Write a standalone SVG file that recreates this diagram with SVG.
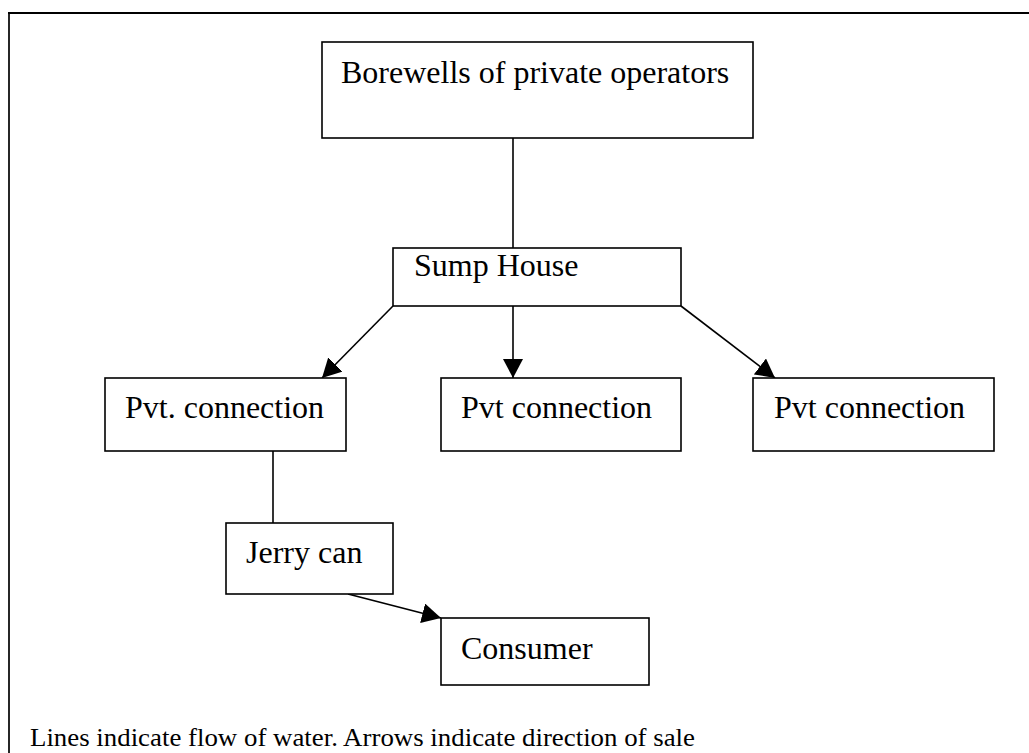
<svg xmlns="http://www.w3.org/2000/svg" width="1029" height="753" viewBox="0 0 1029 753">
<defs>
<style>
.box{fill:#fff;stroke:#000;stroke-width:1.6}
.lbl{font-family:"Liberation Serif","Times New Roman",serif;font-size:32px;fill:#000}
.con{stroke:#000;stroke-width:1.6;fill:none}
</style>
<marker id="ah" markerUnits="userSpaceOnUse" markerWidth="20" markerHeight="20" refX="19" refY="10" orient="auto" viewBox="0 0 20 20">
<path d="M0,0 L19,10 L0,20 z" fill="#000"/>
</marker>
</defs>
<rect width="1029" height="753" fill="#fff"/>
<g id="frame">
<line x1="8" y1="13" x2="1029" y2="13" stroke="#000" stroke-width="2.2"/>
<line x1="9" y1="12" x2="9" y2="753" stroke="#000" stroke-width="1.7"/>
</g>
<g id="connectors">
<line class="con" x1="513" y1="138" x2="513" y2="248"/>
<line class="con" x1="393" y1="306" x2="322" y2="378" marker-end="url(#ah)"/>
<line class="con" x1="513" y1="306" x2="513" y2="378" marker-end="url(#ah)"/>
<line class="con" x1="681" y1="306" x2="775" y2="378" marker-end="url(#ah)"/>
<line class="con" x1="273" y1="451" x2="273" y2="523"/>
<line class="con" x1="348" y1="594" x2="441" y2="618" marker-end="url(#ah)"/>
</g>
<g id="borewells">
<rect class="box" x="322" y="42" width="431" height="96"/>
<text class="lbl" x="341" y="83">Borewells of private operators</text>
</g>
<g id="sump">
<rect class="box" x="393" y="248" width="288" height="58"/>
<text class="lbl" x="414" y="276">Sump House</text>
</g>
<g id="pvt1">
<rect class="box" x="105" y="378" width="241" height="73"/>
<text class="lbl" x="125" y="418">Pvt. connection</text>
</g>
<g id="pvt2">
<rect class="box" x="441" y="378" width="240" height="73"/>
<text class="lbl" x="461" y="418">Pvt connection</text>
</g>
<g id="pvt3">
<rect class="box" x="753" y="378" width="241" height="73"/>
<text class="lbl" x="774" y="418">Pvt connection</text>
</g>
<g id="jerry">
<rect class="box" x="226" y="523" width="167" height="71"/>
<text class="lbl" x="246" y="563">Jerry can</text>
</g>
<g id="consumer">
<rect class="box" x="441" y="618" width="208" height="67"/>
<text class="lbl" x="461" y="659">Consumer</text>
</g>
<g id="footer">
<text x="30" y="746" font-family="'Liberation Serif','Times New Roman',serif" font-size="26" textLength="665" lengthAdjust="spacingAndGlyphs">Lines indicate flow of water. Arrows indicate direction of sale</text>
</g>
</svg>
